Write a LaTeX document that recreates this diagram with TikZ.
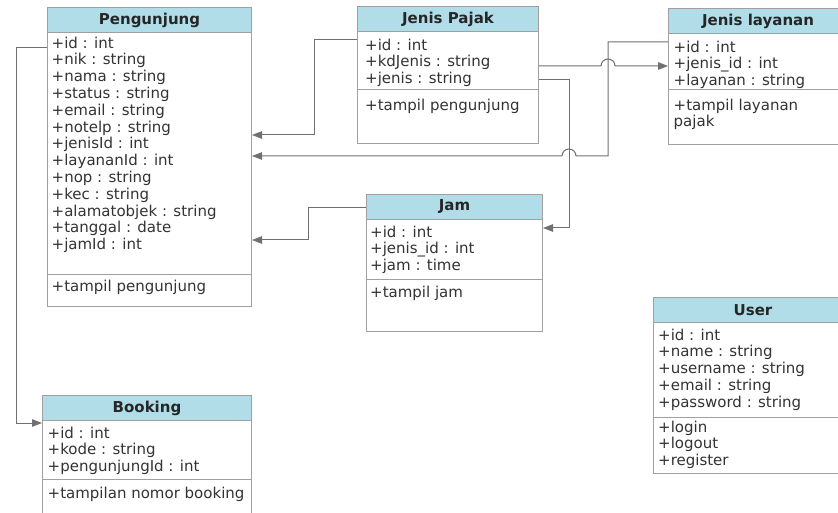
\documentclass[tikz,border=0pt]{standalone}
\usepackage{fontspec}
\setmainfont{DejaVu Sans}
\usetikzlibrary{arrows.meta}
\definecolor{headblue}{HTML}{B1DDE8}
\definecolor{boxgray}{HTML}{A0A0A0}
\definecolor{linegray}{HTML}{707070}
\definecolor{txtgray}{HTML}{333333}
\begin{document}
\begin{tikzpicture}[x=1pt, y=-1pt,
  box/.style={draw=boxgray, fill=white, line width=1pt, anchor=north west, inner sep=0pt},
  head/.style={draw=boxgray, fill=headblue, line width=1pt, anchor=north west, inner sep=0pt,
    minimum height=25pt, font=\fontsize{15}{16.8}\selectfont\bfseries, text=black!85},
  attr/.style={anchor=north west, inner sep=0pt, align=left,
    font=\fontsize{15}{16.8}\selectfont, text=txtgray},
  sep/.style={draw=boxgray, line width=1pt},
  conn/.style={draw=linegray, line width=1pt, -{Triangle[length=10pt,width=7.5pt]}}]
\useasboundingbox (0,0) rectangle (838,513);

% Pengunjung
\node[box, minimum width=204pt, minimum height=299pt] (peng) at (47,7) {};
\node[head, minimum width=204pt] (peng-h) at (47,7) {Pengunjung};
\node[attr] (peng-a) at (51.5,36.6) {+id : int\\+nik : string\\+nama : string\\+status : string\\+email : string\\+notelp : string\\+jenisId : int\\+layananId : int\\+nop : string\\+kec : string\\+alamatobjek : string\\+tanggal : date\\+jamId : int};
\draw[sep] (47,274) -- (251,274);
\node[attr] (peng-m) at (51.5,279.6) {+tampil pengunjung};

% Jenis Pajak
\node[box, minimum width=181pt, minimum height=137pt] (pajak) at (357,6) {};
\node[head, minimum width=181pt] (pajak-h) at (357,6) {Jenis Pajak};
\node[attr] (pajak-a) at (365,38.6) {+id : int\\+kdJenis : string\\+jenis : string};
\draw[sep] (357,90) -- (538,90);
\node[attr] (pajak-m) at (365,98.6) {+tampil pengunjung};

% Jenis layanan
\node[box, minimum width=179pt, minimum height=136pt] (layanan) at (668,8) {};
\node[head, minimum width=179pt] (layanan-h) at (668,8) {Jenis layanan};
\node[attr] (layanan-a) at (673.5,40.6) {+id : int\\+jenis\_id : int\\+layanan : string};
\draw[sep] (668,90) -- (847,90);
\node[attr] (layanan-m) at (673.5,98.6) {+tampil layanan\\pajak};

% Jam
\node[box, minimum width=176pt, minimum height=137pt] (jam) at (366,194) {};
\node[head, minimum width=176pt] (jam-h) at (366,194) {Jam};
\node[attr] (jam-a) at (370,225.6) {+id : int\\+jenis\_id : int\\+jam : time};
\draw[sep] (366,279) -- (542,279);
\node[attr] (jam-m) at (370,285.6) {+tampil jam};

% Booking
\node[box, minimum width=209pt, minimum height=140pt] (booking) at (42,395) {};
\node[head, minimum width=209pt] (booking-h) at (42,395) {Booking};
\node[attr] (booking-a) at (47.5,426.6) {+id : int\\+kode : string\\+pengunjungId : int};
\draw[sep] (42,479) -- (251,479);
\node[attr] (booking-m) at (47.5,486.6) {+tampilan nomor booking};

% User
\node[box, minimum width=199pt, minimum height=176pt] (user) at (653,297) {};
\node[head, minimum width=199pt] (user-h) at (653,297) {User};
\node[attr] (user-a) at (658,328.6) {+id : int\\+name : string\\+username : string\\+email : string\\+password : string};
\draw[sep] (653,417) -- (852,417);
\node[attr] (user-m) at (658,420.6) {+login\\+logout\\+register};

% connectors
\draw[conn] (pajak.west |- 0,40) -- (314,40) |- (peng.east |- 0,135);
\draw[conn] (pajak.east |- 0,66) -- (601,66) arc[start angle=180, end angle=0, radius=7pt] -- (layanan.west |- 0,66);
\draw[conn] (pajak.east |- 0,80) -| (569,228) -- (jam.east |- 0,228);
\draw[conn] (layanan.west |- 0,42) -| (608,156) -- (576,156) arc[start angle=0, end angle=180, radius=7pt] -- (peng.east |- 0,156);
\draw[conn] (jam.west |- 0,208) -- (308,208) |- (peng.east |- 0,240);
\draw[conn] (peng.west |- 0,48) -- (16,48) |- (booking.west |- 0,423);
\end{tikzpicture}
\end{document}
